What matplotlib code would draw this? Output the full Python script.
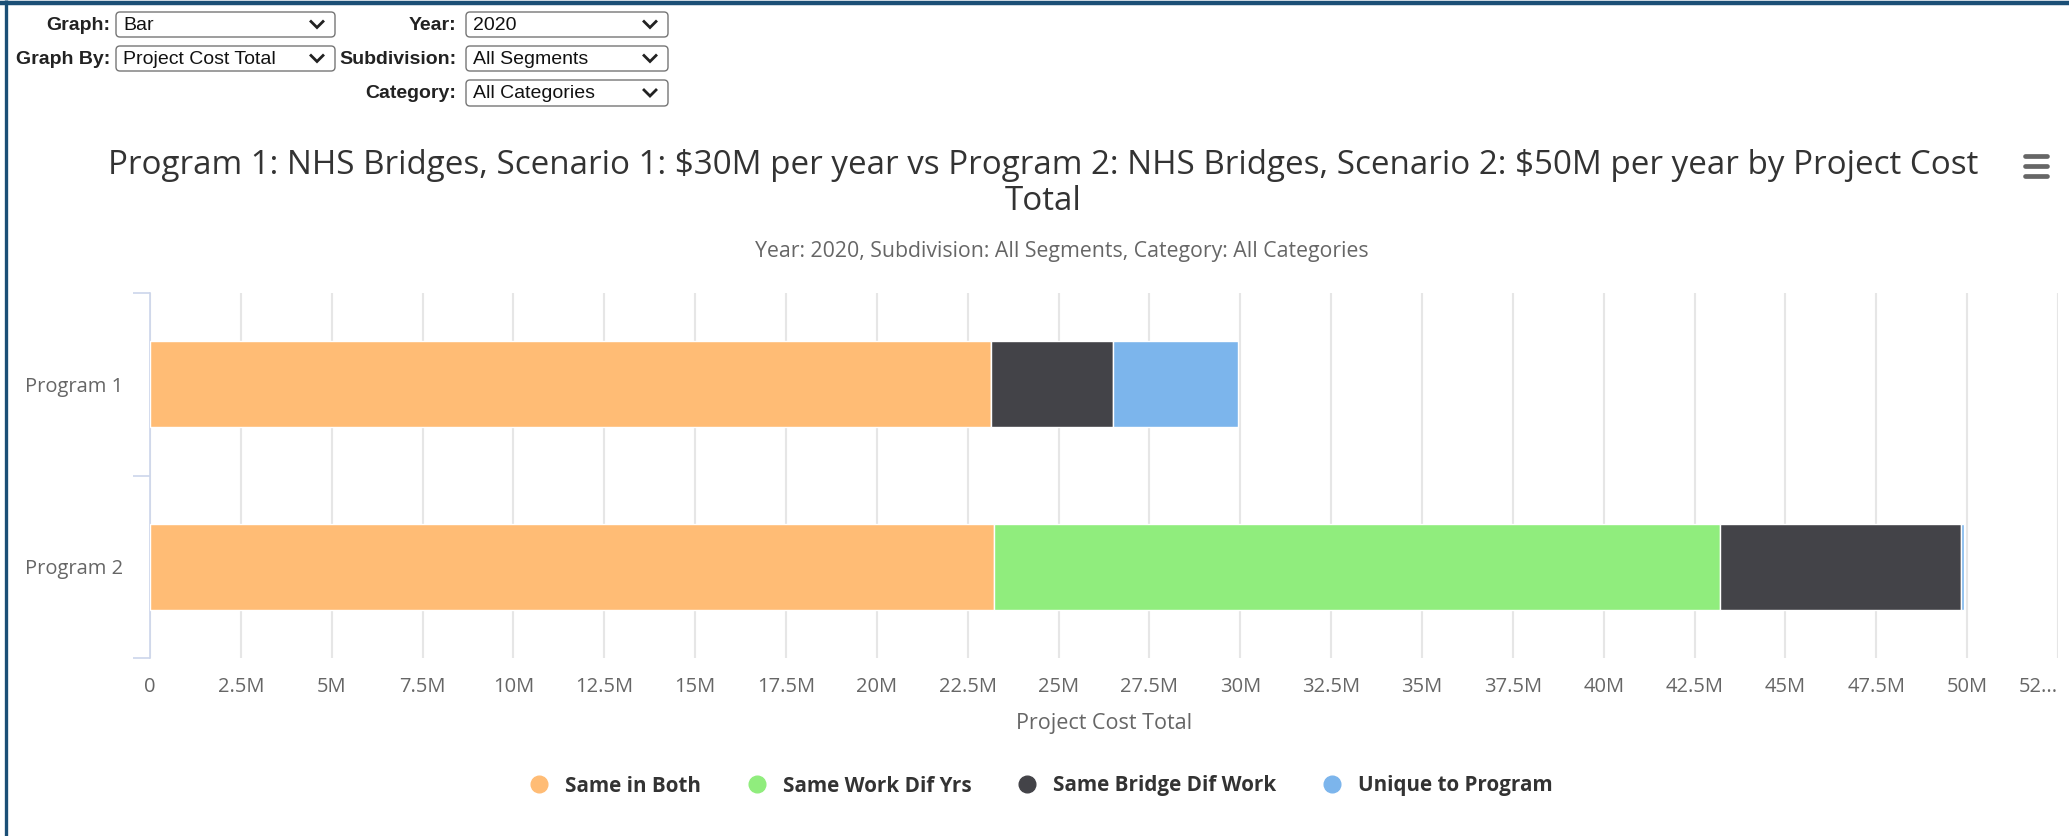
import matplotlib
matplotlib.use("Agg")
import matplotlib.pyplot as plt
from matplotlib.patches import FancyBboxPatch
from matplotlib.lines import Line2D

# chart data (values in millions of dollars)
programs = ["Program 1", "Program 2"]
series_names = ["Same in Both", "Same Work Dif Yrs", "Same Bridge Dif Work", "Unique to Program"]
same_in_both = [23.15, 23.21]
same_work_dif_yrs = [0.0, 20.0]
same_bridge_dif_work = [3.36, 6.63]
unique_to_program = [3.43, 0.07]
series_colors = ["#ffbc75", "#90ed7d", "#434348", "#7cb5ec"]

x_tick_values = [0, 2.5, 5, 7.5, 10, 12.5, 15, 17.5, 20, 22.5, 25, 27.5,
                 30, 32.5, 35, 37.5, 40, 42.5, 45, 47.5, 50, 52.5]
x_tick_labels = ["0", "2.5M", "5M", "7.5M", "10M", "12.5M", "15M", "17.5M", "20M",
                 "22.5M", "25M", "27.5M", "30M", "32.5M", "35M", "37.5M", "40M",
                 "42.5M", "45M", "47.5M", "50M", "52..."]

title = ("Program 1: NHS Bridges, Scenario 1: \\$30M per year vs Program 2: NHS Bridges, "
         "Scenario 2: \\$50M per year by Project Cost\nTotal")
subtitle = "Year: 2020, Subdivision: All Segments, Category: All Categories"
x_label = "Project Cost Total"

control_labels = ["Graph:", "Graph By:", "Year:", "Subdivision:", "Category:"]
control_values = ["Bar", "Project Cost Total", "2020", "All Segments", "All Categories"]

W, H = 2069, 836
font = "Open Sans"
grey = "#666666"

fig = plt.figure(figsize=(W / 100, H / 100), dpi=100)
fig.patch.set_facecolor("white")

# main plot area (pixel box 150..2058 x 293..658)
ax = fig.add_axes([150 / W, 1 - 658 / H, (2058 - 150) / W, (658 - 293) / H])
series = [same_in_both, same_work_dif_yrs, same_bridge_dif_work, unique_to_program]
left = [0.0] * len(programs)
for name, vals, col in zip(series_names, series, series_colors):
    ax.barh(range(len(programs)), vals, left=left, height=0.47, color=col,
            edgecolor="white", linewidth=1, label=name, zorder=3)
    left = [l + v for l, v in zip(left, vals)]

ax.set_xlim(0, 52.5)
ax.set_ylim(1.5, -0.5)
ax.set_xticks(x_tick_values)
ax.set_xticklabels(x_tick_labels, fontsize=14.5, color=grey, family=font)
# last label is cut short by the chart, keep it inside the figure
ax.get_xticklabels()[-1].set_horizontalalignment("right")
ax.set_yticks(range(len(programs)))
ax.set_yticklabels(programs, fontsize=14.5, color=grey, family=font)
ax.set_yticks([-0.5, 0.5, 1.5], minor=True)
ax.tick_params(axis="x", length=0, pad=14)
ax.tick_params(axis="y", which="major", length=0, pad=19.5)
ax.tick_params(axis="y", which="minor", length=12, width=1.2, color="#ccd6eb")
for s in ["top", "right", "bottom"]:
    ax.spines[s].set_visible(False)
ax.spines["left"].set_color("#ccd6eb")
ax.spines["left"].set_linewidth(1.2)
ax.grid(axis="x", color="#e6e6e6", linewidth=1.5, zorder=0)
ax.set_axisbelow(True)
ax.set_xlabel(x_label, fontsize=15.5, color=grey, family=font)
ax.xaxis.set_label_coords(0.5, -0.152)

# titles
fig.text(1043 / W, 1 - 183 / H, title, ha="center", va="center", fontsize=23.9,
         color="#333333", family=font, linespacing=1.12)
fig.text(1062 / W, 1 - 252 / H, subtitle, ha="center", va="center", fontsize=15.3,
         color=grey, family=font)

# legend
handles = [Line2D([], [], marker="o", linestyle="none", markersize=12,
                  markerfacecolor=c, markeredgecolor=c) for c in series_colors]
leg = fig.legend(handles, series_names, loc="center", bbox_to_anchor=(1041 / W, 1 - 786 / H),
                 ncol=4, frameon=False, handlelength=1.0, handletextpad=0.75,
                 columnspacing=2.2, prop={"family": font, "size": 14.9, "weight": "bold"})
for t in leg.get_texts():
    t.set_color("#333333")

# overlay in pixel coordinates: page border, menu icon, dropdown controls
ov = fig.add_axes([0, 0, 1, 1], facecolor="none")
ov.set_xlim(0, W)
ov.set_ylim(H, 0)
ov.axis("off")

ov.plot([0, W], [3, 3], color="#1b4f76", linewidth=3.2, solid_capstyle="butt")
ov.plot([6, 6], [0, H], color="#1b4f76", linewidth=2.4, solid_capstyle="butt")

for yy in [156, 166, 176]:
    ov.plot([2025, 2047], [yy, yy], color=grey, linewidth=3.4, solid_capstyle="round")

label_pos = [(110, 25), (110, 59), (456, 25), (456, 59), (456, 93)]
box_pos = [(116, 335, 12, 37), (116, 335, 46, 71), (466, 668, 12, 37),
           (466, 668, 46, 71), (466, 668, 80, 106)]
for lab, val, (lx, ly), (bx0, bx1, by0, by1) in zip(control_labels, control_values,
                                                    label_pos, box_pos):
    ov.text(lx, ly, lab, ha="right", va="center", fontsize=14, fontweight="bold",
            color="#222222", family="Liberation Sans")
    ov.add_patch(FancyBboxPatch((bx0, by0), bx1 - bx0, by1 - by0,
                                boxstyle="round,pad=0,rounding_size=4",
                                facecolor="white", edgecolor="#767676", linewidth=1))
    ov.text(bx0 + 7, (by0 + by1) / 2 + 1, val, ha="left", va="center", fontsize=14,
            color="#111111", family="Liberation Sans")
    cx, cy = bx1 - 18, (by0 + by1) / 2
    ov.plot([cx - 6, cx, cx + 6], [cy - 3, cy + 3, cy - 3], color="#222222",
            linewidth=2, solid_joinstyle="miter")

fig.savefig("out.png", dpi=100)
